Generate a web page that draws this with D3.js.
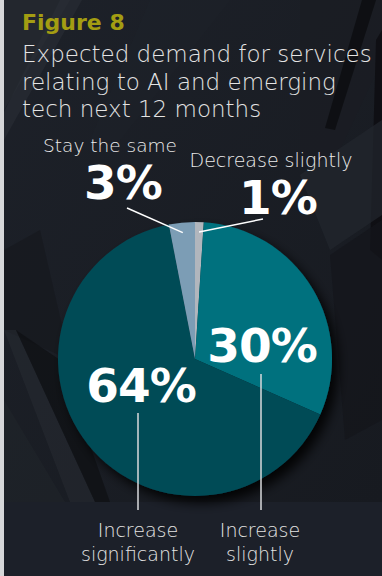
<!DOCTYPE html>
<html>
<head>
<meta charset="utf-8">
<script src="https://cdn.jsdelivr.net/npm/d3@7"></script>
<style>
  html, body { margin: 0; padding: 0; background: #1c2029; }
  svg { display: block; }
</style>
</head>
<body>
<svg id="chart" width="382" height="576"></svg>
<script>
// Survey responses: expected demand for AI / emerging-tech services
const categories = ["Decrease slightly", "Increase slightly", "Increase significantly", "Stay the same"];
const values = [1, 30, 64, 3];
const valueLabels = ["1%", "30%", "64%", "3%"];
const colors = ["#b1b6bd", "#00717e", "#004b57", "#7b9db5"];

const titleLines = ["Expected demand for services", "relating to AI and emerging", "tech next 12 months"];

const W = 382, H = 576;
const svg = d3.select("#chart");
const defs = svg.append("defs");

// ---- backdrop: dark faceted panel ----
const bgGrad = defs.append("linearGradient").attr("id", "bg").attr("x1", 0).attr("y1", 0).attr("x2", 1).attr("y2", 1);
bgGrad.append("stop").attr("offset", 0).attr("stop-color", "#1d2129");
bgGrad.append("stop").attr("offset", 1).attr("stop-color", "#171a20");

svg.append("rect").attr("width", W).attr("height", H).attr("fill", "#1c2029");
svg.append("rect").attr("x", 4).attr("width", W - 4).attr("height", 502).attr("fill", "url(#bg)");

const facets = [
  { pts: [[4, 0], [70, 0], [4, 110]], fill: "#252930", op: 0.8 },
  { pts: [[60, 0], [82, 0], [4, 140], [4, 112]], fill: "#2b2f37", op: 0.5 },
  { pts: [[300, 0], [382, 0], [382, 60], [340, 150], [300, 170]], fill: "#1a1d23", op: 0.8 },
  { pts: [[362, 0], [376, 0], [335, 130], [325, 128]], fill: "#0b0c0f", op: 0.8 },
  { pts: [[376, 40], [382, 30], [382, 260], [370, 250]], fill: "#0c0d10", op: 0.8 },
  { pts: [[300, 175], [382, 120], [382, 215], [330, 250]], fill: "#22262d", op: 0.7 },
  { pts: [[330, 255], [382, 220], [382, 420], [345, 440]], fill: "#14161b", op: 0.7 },
  { pts: [[4, 250], [40, 230], [70, 360], [4, 330]], fill: "#15171c", op: 0.6 },
  { pts: [[4, 330], [16, 330], [95, 502], [70, 502]], fill: "#2a2e35", op: 0.45 },
  { pts: [[16, 330], [60, 360], [110, 502], [95, 502]], fill: "#0e1013", op: 0.7 },
  { pts: [[4, 400], [65, 502], [4, 502]], fill: "#1f232a", op: 0.7 },
  { pts: [[150, 0], [230, 0], [120, 140], [90, 140]], fill: "#1f232b", op: 0.4 }
];
svg.append("g").selectAll("polygon").data(facets).join("polygon")
  .attr("points", d => d.pts.map(p => p.join(",")).join(" "))
  .attr("fill", d => d.fill).attr("opacity", d => d.op);

// thin light strip at the left edge
svg.append("rect").attr("x", 0).attr("width", 4).attr("height", H).attr("fill", "#d6d7d9");

const font = "'DejaVu Sans', sans-serif";

// ---- title ----
svg.append("text").attr("x", 22).attr("y", 30)
  .attr("font-family", font).attr("font-weight", 700)
  .attr("font-size", 22).attr("fill", "#a39d12").text("Figure 8");

svg.append("g").selectAll("text").data(titleLines).join("text")
  .attr("x", 22).attr("y", (d, i) => 62 + i * 27.5)
  .attr("font-family", font).attr("font-weight", 200)
  .attr("font-size", 23).attr("fill", "#e4e4e4").text(d => d);

// ---- pie ----
const cx = 195, cy = 359, R = 137;
const pie = d3.pie().sort(null).value(d => d.value).startAngle(0).endAngle(2 * Math.PI);
const data = categories.map((c, i) => ({ category: c, value: values[i], label: valueLabels[i], color: colors[i] }));
const arcs = pie(data);
const arc = d3.arc().innerRadius(0).outerRadius(R);

const shadow = defs.append("filter").attr("id", "shadow").attr("x", "-30%").attr("y", "-30%").attr("width", "160%").attr("height", "160%");
shadow.append("feGaussianBlur").attr("in", "SourceAlpha").attr("stdDeviation", 6).attr("result", "b");
shadow.append("feOffset").attr("in", "b").attr("dx", 6).attr("dy", 7).attr("result", "o");
shadow.append("feComponentTransfer").attr("in", "o").attr("result", "s")
  .append("feFuncA").attr("type", "linear").attr("slope", 0.9);
const merge = shadow.append("feMerge");
merge.append("feMergeNode").attr("in", "s");
merge.append("feMergeNode").attr("in", "SourceGraphic");

const gPie = svg.append("g").attr("transform", `translate(${cx},${cy})`);
gPie.append("g").attr("filter", "url(#shadow)")
  .selectAll("path").data(arcs).join("path")
  .attr("d", arc).attr("fill", d => d.data.color);

// ---- labels ----
const labelLayout = {
  "Decrease slightly":      { name: [271, 167], nameSize: 19, value: [278, 214], line: [263, 219] },
  "Stay the same":          { name: [110, 152], nameSize: 18.5, value: [123, 199], line: [127, 208] },
  "Increase slightly":      { value: [262, 362], bottom: [[260, 537, "Increase"], [260, 561, "slightly"]], vline: [261, 374, 510] },
  "Increase significantly": { value: [141, 402], bottom: [[138, 537, "Increase"], [138, 561, "significantly"]], vline: [138, 413, 510] }
};

const gLab = svg.append("g");
arcs.forEach(a => {
  const L = labelLayout[a.data.category];
  if (L.name) {
    gLab.append("text").attr("x", L.name[0]).attr("y", L.name[1])
      .attr("text-anchor", "middle").attr("font-family", font).attr("font-weight", 200)
      .attr("font-size", L.nameSize).attr("fill", "#ececec").text(a.data.category);
  }
  gLab.append("text").attr("x", L.value[0]).attr("y", L.value[1])
    .attr("text-anchor", "middle").attr("font-family", font).attr("font-weight", 700)
    .attr("font-size", 47).attr("fill", "#ffffff").attr("letter-spacing", -1).text(a.data.label);
  if (L.line) {
    // leader line into the slice, ending near its outer rim
    const mid = (a.startAngle + a.endAngle) / 2;
    const r = R - 10;
    gLab.append("line")
      .attr("x1", L.line[0]).attr("y1", L.line[1])
      .attr("x2", cx + r * Math.sin(mid)).attr("y2", cy - r * Math.cos(mid))
      .attr("stroke", "#ffffff").attr("stroke-width", 1.5);
  }
  if (L.vline) {
    gLab.append("line").attr("x1", L.vline[0]).attr("x2", L.vline[0])
      .attr("y1", L.vline[1]).attr("y2", L.vline[2])
      .attr("stroke", "#d8dadc").attr("stroke-width", 1.5);
  }
  if (L.bottom) {
    L.bottom.forEach(b => {
      gLab.append("text").attr("x", b[0]).attr("y", b[1]).attr("text-anchor", "middle")
        .attr("font-family", font).attr("font-weight", 200).attr("font-size", 19)
        .attr("fill", "#e4e4e4").text(b[2]);
    });
  }
});
</script>
</body>
</html>
